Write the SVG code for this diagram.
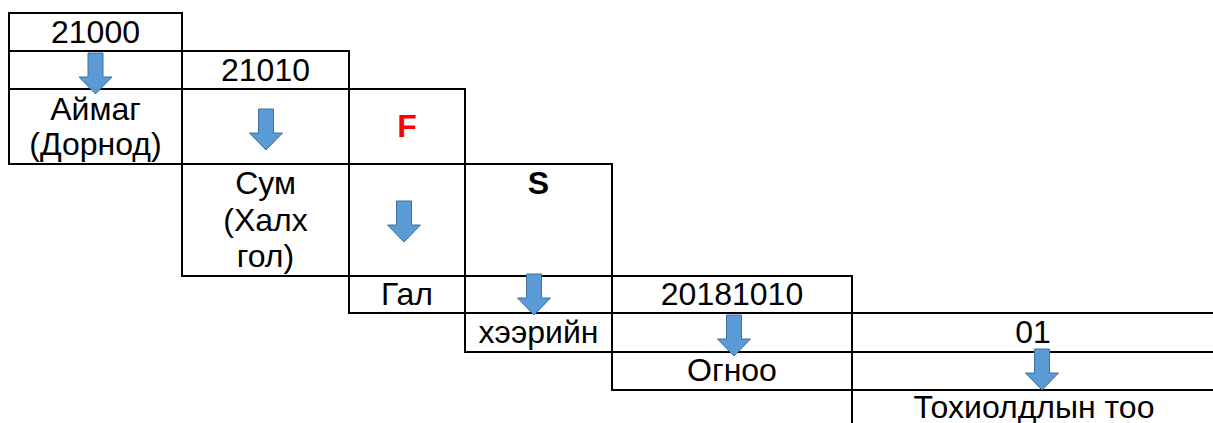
<svg xmlns="http://www.w3.org/2000/svg" xmlns:xlink="http://www.w3.org/1999/xlink" width="1213" height="423" viewBox="0 0 1213 423">
<style>
.cell{fill:none;stroke:#000;stroke-width:2}
text{font-family:"Liberation Sans",Arial,sans-serif;font-size:32px;fill:#000;text-anchor:middle}
.red{fill:#FF0000;font-weight:bold}
.bold{font-weight:bold}
.arr{fill:#5B9BD5;stroke:#41719C;stroke-width:1}
</style>
<defs>
<path id="down" class="arr" d="M-7.5,0 H7.5 V24 H16.5 L0,41 L-16.5,24 H-7.5 Z"/>
</defs>
<rect width="1213" height="423" fill="#fff"/>
<g id="col1">
<g id="n21000"><rect class="cell" x="9" y="13" width="173" height="38"/><text x="95.5" y="43">21000</text></g>
<g id="c1r2"><rect class="cell" x="9" y="51" width="173" height="38"/></g>
<g id="aimag"><rect class="cell" x="9" y="89" width="173" height="75"/><text x="95.5" y="120">Аймаг</text><text x="95.5" y="155">(Дорнод)</text></g>
</g>
<g id="col2">
<g id="n21010"><rect class="cell" x="182" y="51" width="167" height="38"/><text x="265.5" y="81">21010</text></g>
<g id="c2r2"><rect class="cell" x="182" y="89" width="167" height="75"/></g>
<g id="sum"><rect class="cell" x="182" y="164" width="167" height="112"/><text x="265.5" y="194">Сум</text><text x="265.5" y="231">(Халх</text><text x="265.5" y="267">гол)</text></g>
</g>
<g id="col3">
<g id="nF"><rect class="cell" x="349" y="89" width="116" height="75"/><text class="red" x="407" y="137">F</text></g>
<g id="c3r2"><rect class="cell" x="349" y="164" width="116" height="112"/></g>
<g id="gal"><rect class="cell" x="349" y="276" width="116" height="37"/><text x="407" y="305">Гал</text></g>
</g>
<g id="col4">
<g id="nS"><rect class="cell" x="465" y="164" width="147" height="112"/><text class="bold" x="538.5" y="194">S</text></g>
<g id="c4r2"><rect class="cell" x="465" y="276" width="147" height="37"/></g>
<g id="heeriin"><rect class="cell" x="465" y="313" width="147" height="39"/><text x="538.5" y="343">хээрийн</text></g>
</g>
<g id="col5">
<g id="date"><rect class="cell" x="612" y="276" width="240" height="37"/><text x="732" y="305">20181010</text></g>
<g id="c5r2"><rect class="cell" x="612" y="313" width="240" height="39"/></g>
<g id="ognoo"><rect class="cell" x="612" y="352" width="240" height="38"/><text x="732" y="381">Огноо</text></g>
</g>
<g id="col6">
<g id="n01"><rect class="cell" x="852" y="313" width="400" height="39"/><text x="1033" y="343">01</text></g>
<g id="c6r2"><rect class="cell" x="852" y="352" width="400" height="38"/></g>
<g id="too"><rect class="cell" x="852" y="390" width="400" height="60"/><text x="1034" y="418">Тохиолдлын тоо</text></g>
</g>
<g id="connectors">
<use xlink:href="#down" x="95.5" y="53"/>
<use xlink:href="#down" x="266" y="109"/>
<use xlink:href="#down" x="404" y="201"/>
<use xlink:href="#down" x="534" y="274"/>
<use xlink:href="#down" x="734" y="315"/>
<use xlink:href="#down" x="1042" y="349"/>
</g>
</svg>
